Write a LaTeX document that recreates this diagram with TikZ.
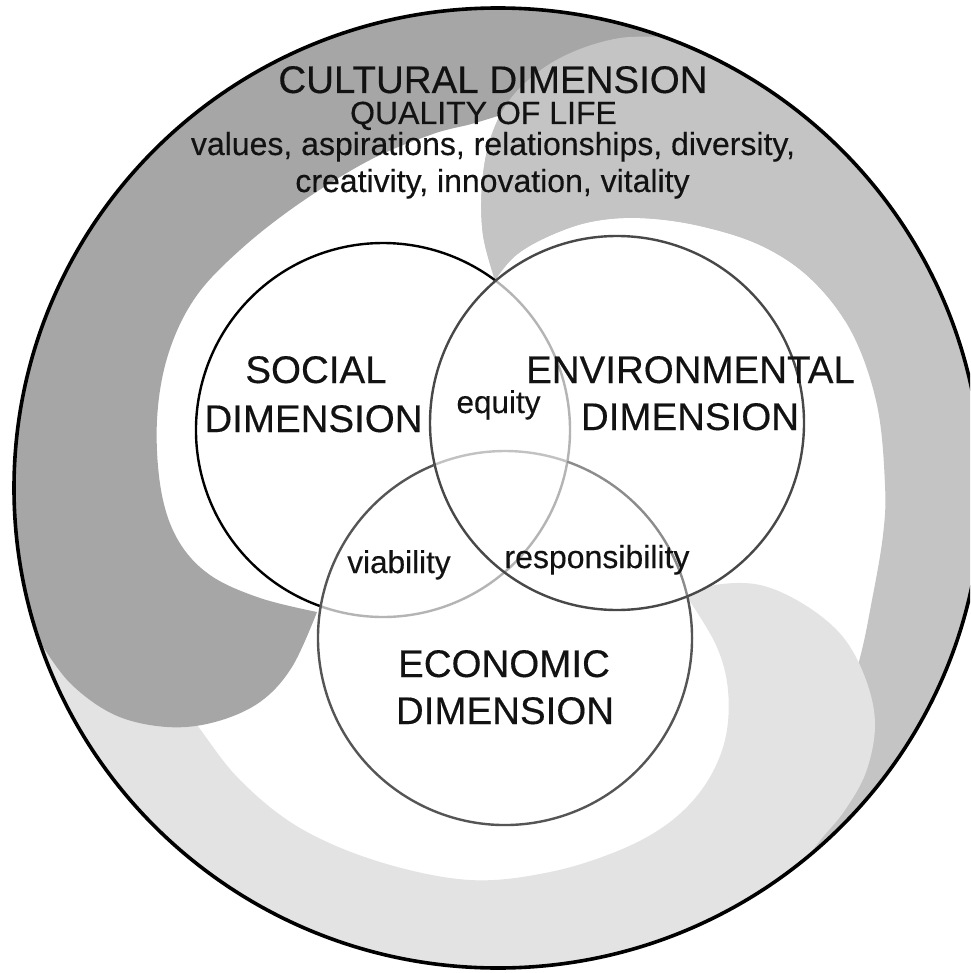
\documentclass[tikz,border=0pt]{standalone}
\usepackage{fontspec}
\setmainfont{Liberation Sans}
\newfontfamily\labelfont[FakeBold=0.35]{Liberation Sans}
\usetikzlibrary{calc}
\definecolor{darkarm}{HTML}{A6A6A6}
\definecolor{midarm}{HTML}{C4C4C4}
\definecolor{lightarm}{HTML}{E3E3E3}
\definecolor{envline}{HTML}{484848}
\definecolor{ecoline}{HTML}{555555}
\definecolor{paleline}{HTML}{B4B4B4}
\definecolor{paleline2}{HTML}{C2C2C2}
\definecolor{midline}{HTML}{8C8C8C}
\newcommand\MidArmPath{plot[smooth,tension=0.6] coordinates {(495,280) (483,235) (482,185) (490,140) (508,102) (538,72) (575,51) (620,38) ($(O)+(-70:484 and 480)$)} arc[start angle=-70,end angle=65.3,x radius=484,y radius=480] -- plot[smooth,tension=0.6] coordinates {($(O)+(65.3:484 and 480)$) (780,840) (830,750) (858,665) (872,600) (883,535) (885,485) (877,405) (852,333) (812,280) (762,246) (700,226) (640,218) (590,222) (547,237) (515,256) (495,280)} -- cycle}
\begin{document}
\begin{tikzpicture}[x=1pt,y=1pt,yscale=-1,
  big/.style={font=\labelfont\fontsize{38.5}{40}\selectfont, inner sep=0pt, anchor=base, text=black!93},
  small/.style={font=\labelfont\fontsize{32}{34}\selectfont, inner sep=0pt, anchor=base, text=black!93},
  mid/.style={font=\labelfont\fontsize{31.5}{33}\selectfont, inner sep=0pt, anchor=base, text=black!93},
  vennline/.style={line width=2.4pt}]
\useasboundingbox (0,0) rectangle (970,973);
\clip (0,0) rectangle (970,973);
\fill[white] (0,0) rectangle (970,973);
\coordinate (O) at (498,488);
\coordinate (S) at (383,430);
\coordinate (E) at (617,423);
\coordinate (C) at (505,638);
% medium arm (whole)
\fill[midarm] \MidArmPath;
% light arm
\fill[lightarm] plot[smooth,tension=0.6] coordinates {(687,597) (715,585) (760,585) (805,605) (843,637) (866,680) (875,725) (866,772) (845,810) (822,838) ($(O)+(50.3:484 and 480)$)} arc[start angle=50.3,end angle=167.7,x radius=484,y radius=480] -- plot[smooth,tension=0.6] coordinates {($(O)+(167.7:484 and 480)$) (100,615) (160,675) (197,725) (240,780) (300,828) (380,862) (470,880) (550,872) (620,850) (670,822) (705,785) (725,740) (728,690) (716,645) (687,597)} -- cycle;
% dark arm
\fill[darkarm] plot[smooth,tension=0.6] coordinates {($(O)+(161.5:484 and 480)$) (70,683) (115,715) (167,727) (215,722) (260,702) (292,667) (317,612)} -- plot[smooth,tension=0.6] coordinates {(317,612) (260,598) (210,575) (178,540) (161,490) (157,420) (168,355) (195,298) (240,250) (300,203) (370,160) (433,134) (475,123) (520,108) (580,82) (640,60) ($(O)+(-66.6:484 and 480)$)} arc[start angle=-66.6,end angle=-198.5,x radius=484,y radius=480] -- cycle;
% medium head again, over the dark tail
\begin{scope}
\clip (300,0) rectangle (970,320);
\fill[midarm] \MidArmPath;
\end{scope}
% venn circles
\fill[white] (S) circle[radius=187];
\fill[white] (E) circle[radius=187];
\fill[white] (C) circle[radius=187];
\draw[vennline,black] ($(S)+(109.4:187)$) arc[start angle=109.4,end angle=307,radius=187];
\draw[vennline,paleline] ($(S)+(-53:187)$) arc[start angle=-53,end angle=109.4,radius=187];
\draw[vennline,paleline2] ($(C)+(-112:187)$) arc[start angle=-112,end angle=-70.6,radius=187];
\draw[vennline,midline] ($(C)+(-70.6:187)$) arc[start angle=-70.6,end angle=-13,radius=187];
\draw[vennline,envline] (E) circle[radius=187];
\draw[vennline,ecoline] ($(C)+(-13:187)$) arc[start angle=-13,end angle=248,radius=187];
% outer circle
\draw[line width=3.6pt,black] (O) ellipse[x radius=484,y radius=480];
% texts
\node[big] (cult) at (493,93) {CULTURAL DIMENSION};
\node[small] (qol) at (483.5,124) {QUALITY OF LIFE};
\node[small] (vals) at (493,155) {values, aspirations, relationships, diversity,};
\node[small] (crea) at (492.5,192) {creativity, innovation, vitality};
\node[big] (soc1) at (316,383) {SOCIAL};
\node[big] (soc2) at (313.5,432) {DIMENSION};
\node[big] (env1) at (690.5,383) {ENVIRONMENTAL};
\node[big] (env2) at (690,430) {DIMENSION};
\node[mid] (eq) at (498.5,413) {equity};
\node[mid] (via) at (399,573) {viability};
\node[small] (resp) at (597,568) {responsibility};
\node[big] (eco1) at (504,677) {ECONOMIC};
\node[big] (eco2) at (505,724) {DIMENSION};
\end{tikzpicture}
\end{document}
